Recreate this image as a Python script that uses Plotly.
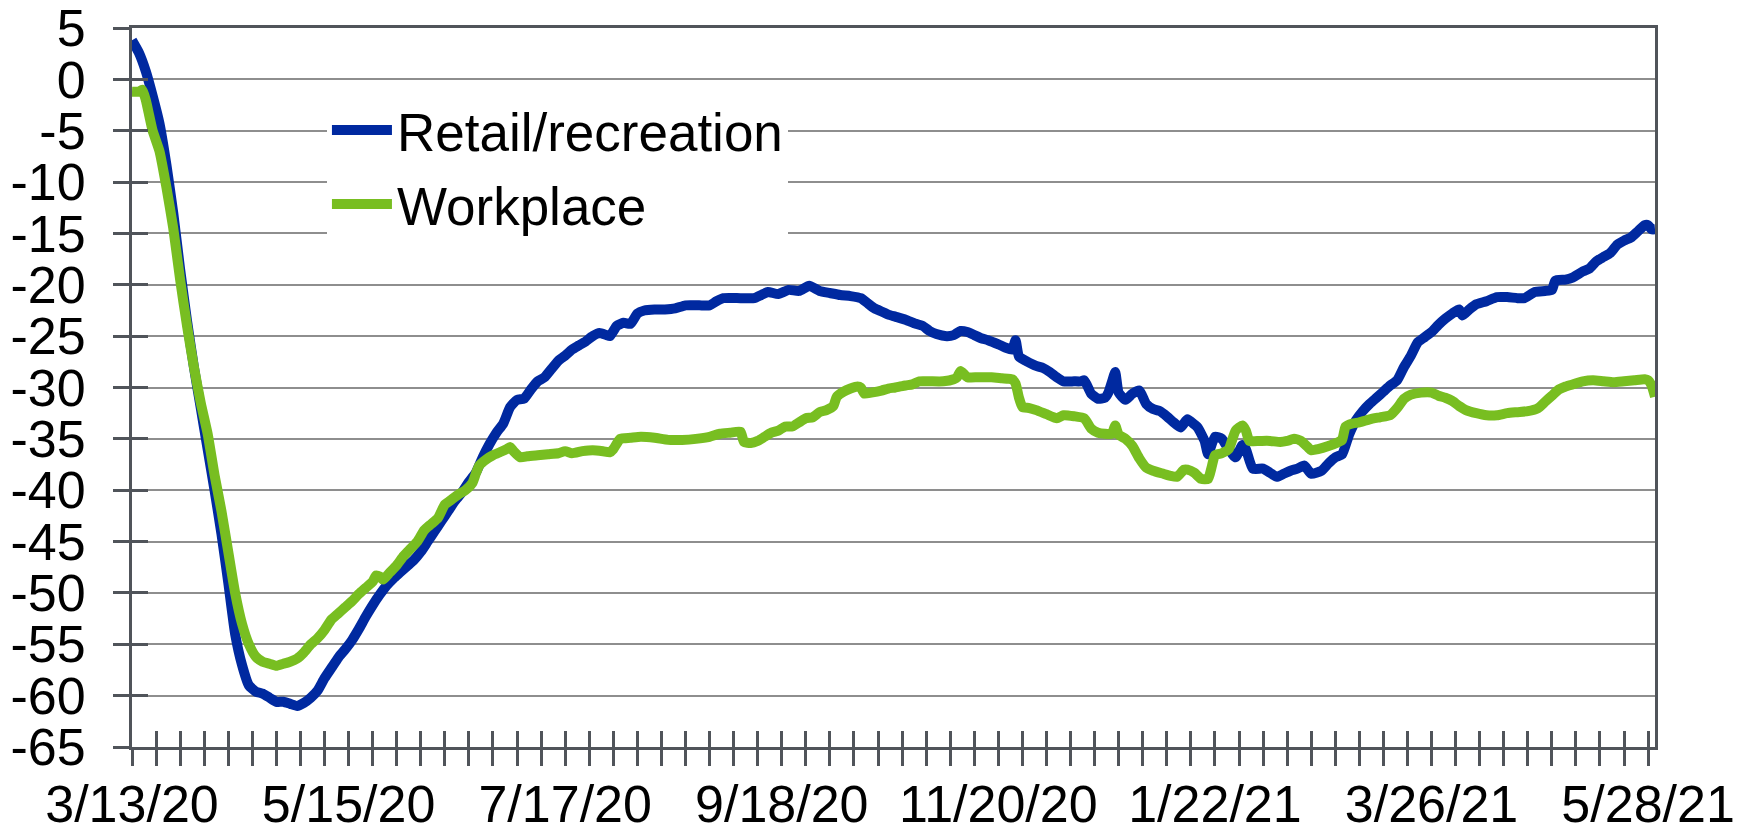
import pandas as pd
import plotly.graph_objects as go

# days since 3/13/20 and values
retail_days = [0, 2, 4, 6, 8, 10, 12, 14, 16, 18, 20, 22, 24, 26, 28, 30, 32, 34, 36, 38,
               40, 42, 44, 46, 48, 50, 52, 54, 56, 58, 60, 62, 64, 66, 68, 70, 72, 74, 76, 78,
               80, 82, 84, 86, 88, 90, 92, 94, 96, 98, 100, 102, 104, 106, 108, 110, 112, 114, 116, 118,
               120, 122, 124, 126, 128, 130, 132, 134, 136, 138, 139, 141, 143, 145, 147, 149, 152, 155, 158, 161,
               165, 168, 170, 172, 177, 181, 183, 185, 188, 191, 194, 197, 200, 203, 206, 209, 212, 214, 216, 218,
               220, 222, 225, 228, 230, 232, 234, 237, 239, 241, 243, 245, 247, 249, 252, 254, 256, 257, 258, 260,
               263, 265, 267, 269, 271, 274, 276, 277, 279, 281, 283, 284, 285, 286, 287, 289, 291, 293, 295, 297,
               299, 301, 303, 305, 307, 309, 310, 312, 313, 315, 317, 319, 321, 323, 324, 326, 329, 331, 333, 335,
               337, 339, 341, 343, 346, 348, 350, 352, 354, 356, 358, 360, 362, 364, 366, 368, 370, 372, 374, 376,
               378, 380, 382, 384, 386, 387, 389, 391, 394, 397, 400, 403, 405, 408, 411, 413, 414, 417, 419, 422,
               424, 426, 428, 430, 432, 434, 436, 438, 440, 441, 442, 443]
retail_vals = [3.8, 2.6, 0.8, -1.6, -4.3, -8.3, -13.0, -18.5, -23.5, -28.0, -32.0, -36.0, -40.0, -44.2, -49.0, -54.0, -57.0, -59.0, -59.6, -59.8,
               -60.2, -60.6, -60.6, -60.8, -61.0, -60.7, -60.2, -59.5, -58.3, -57.3, -56.3, -55.5, -54.6, -53.5, -52.3, -51.2, -50.2, -49.3, -48.6, -48.0,
               -47.4, -46.8, -46.0, -45.0, -44.0, -43.0, -42.0, -41.0, -40.2, -39.2, -38.3, -36.8, -35.5, -34.4, -33.5, -31.9, -31.2, -31.1, -30.2, -29.4,
               -29.0, -28.2, -27.4, -26.9, -26.3, -25.9, -25.5, -25.0, -24.7, -24.9, -25.0, -24.0, -23.7, -23.8, -22.8, -22.5, -22.4, -22.4, -22.3, -22.0,
               -22.0, -22.0, -21.6, -21.3, -21.3, -21.3, -21.0, -20.7, -20.9, -20.5, -20.6, -20.1, -20.6, -20.8, -21.0, -21.1, -21.3, -21.8, -22.3, -22.6,
               -22.9, -23.1, -23.4, -23.8, -24.0, -24.5, -24.8, -25.0, -24.9, -24.5, -24.6, -24.9, -25.2, -25.4, -25.8, -26.1, -26.3, -25.4, -27.0, -27.4,
               -27.9, -28.1, -28.5, -29.0, -29.4, -29.4, -29.4, -29.3, -30.6, -31.1, -31.0, -30.5, -29.5, -28.5, -30.5, -31.2, -30.6, -30.3, -31.6, -32.1,
               -32.3, -32.8, -33.4, -33.9, -33.1, -33.6, -33.9, -35.2, -36.5, -34.8, -35.0, -36.0, -36.8, -35.6, -36.0, -37.9, -37.9, -38.3, -38.7, -38.4,
               -38.1, -37.9, -37.6, -38.4, -38.1, -37.4, -36.8, -36.5, -34.6, -33.2, -32.3, -31.6, -31.0, -30.4, -29.8, -29.3, -28.0, -26.9, -25.6, -25.1,
               -24.6, -23.9, -23.3, -22.8, -22.4, -23.0, -22.4, -21.9, -21.6, -21.2, -21.2, -21.3, -21.3, -20.7, -20.6, -20.5, -19.6, -19.5, -19.3, -18.7,
               -18.4, -17.7, -17.3, -16.9, -16.1, -15.7, -15.4, -14.8, -14.2, -14.2, -14.6, -14.6]

work_days = [0, 2, 3, 4, 5, 6, 8, 10, 12, 14, 16, 18, 20, 22, 24, 26, 28, 30, 32, 34,
             36, 38, 40, 42, 44, 46, 48, 50, 52, 54, 56, 58, 60, 62, 64, 66, 68, 70, 71, 72,
             73, 75, 77, 79, 81, 83, 85, 87, 89, 91, 93, 95, 97, 99, 100, 101, 103, 105, 107, 109,
             110, 111, 113, 115, 118, 121, 124, 126, 128, 131, 134, 137, 139, 140, 142, 145, 148, 152, 156, 160,
             164, 168, 171, 174, 177, 178, 180, 182, 184, 186, 188, 190, 192, 194, 196, 198, 200, 202, 204, 205,
             207, 209, 211, 212, 213, 215, 218, 220, 222, 225, 227, 229, 232, 236, 239, 240, 241, 243, 246, 250,
             253, 256, 257, 258, 259, 261, 263, 266, 269, 271, 274, 277, 279, 281, 283, 285, 286, 287, 289, 291,
             293, 295, 297, 300, 302, 304, 306, 307, 309, 311, 313, 314, 315, 317, 319, 321, 323, 324, 325, 328,
             331, 334, 336, 338, 340, 342, 343, 345, 348, 351, 352, 353, 355, 357, 360, 363, 366, 368, 370, 372,
             375, 378, 380, 382, 384, 386, 388, 391, 394, 397, 400, 403, 406, 409, 411, 413, 415, 417, 419, 422,
             425, 428, 431, 434, 437, 440, 441, 442, 443]
work_vals = [-1.2, -1.2, -1.0, -2.0, -3.5, -5.0, -7.0, -10.5, -14.5, -19.5, -24.0, -28.0, -31.5, -34.5, -38.5, -42.0, -46.0, -50.0, -53.0, -55.0,
             -56.2, -56.7, -56.9, -57.1, -56.9, -56.7, -56.4, -55.8, -55.0, -54.4, -53.6, -52.6, -52.0, -51.4, -50.8, -50.1, -49.5, -48.9, -48.3, -48.4,
             -48.7, -48.0, -47.3, -46.4, -45.7, -45.0, -43.9, -43.3, -42.7, -41.4, -40.9, -40.4, -40.0, -39.3, -38.4, -37.6, -37.0, -36.6, -36.3, -36.0,
             -35.8, -36.2, -36.8, -36.7, -36.6, -36.5, -36.4, -36.2, -36.4, -36.2, -36.1, -36.2, -36.3, -36.0, -35.0, -34.9, -34.8, -34.9, -35.1, -35.1,
             -35.0, -34.8, -34.5, -34.4, -34.3, -35.3, -35.4, -35.2, -34.8, -34.4, -34.2, -33.8, -33.8, -33.4, -33.0, -32.9, -32.4, -32.2, -31.8, -30.9,
             -30.4, -30.1, -29.9, -30.0, -30.6, -30.5, -30.3, -30.1, -30.0, -29.8, -29.7, -29.4, -29.4, -29.4, -29.2, -29.0, -28.4, -29.0, -29.0, -29.0,
             -29.1, -29.2, -29.6, -31.0, -31.9, -32.0, -32.2, -32.6, -33.0, -32.7, -32.8, -33.0, -34.0, -34.4, -34.5, -34.5, -33.7, -34.6, -35.0, -35.7,
             -36.9, -37.8, -38.1, -38.4, -38.6, -38.7, -38.0, -38.0, -38.3, -38.9, -38.9, -37.8, -36.6, -36.4, -36.0, -34.2, -33.7, -34.2, -35.2, -35.2,
             -35.2, -35.3, -35.2, -35.0, -35.2, -35.8, -36.1, -36.0, -35.7, -35.3, -35.1, -33.8, -33.5, -33.4, -33.1, -32.9, -32.7, -32.0, -31.1, -30.7,
             -30.5, -30.5, -30.8, -31.0, -31.3, -31.8, -32.2, -32.5, -32.7, -32.7, -32.5, -32.4, -32.3, -32.0, -31.4, -30.8, -30.2, -29.9, -29.7, -29.4,
             -29.3, -29.4, -29.5, -29.4, -29.3, -29.2, -29.3, -29.8, -30.9]

y_ticks = [5, 0, -5, -10, -15, -20, -25, -30, -35, -40, -45, -50, -55, -60, -65]
y_labels = ["5", "0", "-5", "-10", "-15", "-20", "-25", "-30", "-35", "-40", "-45", "-50", "-55", "-60", "-65"]

start = pd.Timestamp("2020-03-13")
end = pd.Timestamp("2021-05-30")
retail_dates = start + pd.to_timedelta(retail_days, unit="D")
work_dates = start + pd.to_timedelta(work_days, unit="D")

DAY = 86400000
FONT = "Liberation Sans, Arial, sans-serif"
AXIS = "#50545a"
GRID = "#8e8e8e"

fig = go.Figure()
fig.add_trace(go.Scatter(x=retail_dates, y=retail_vals, mode="lines", name="Retail/recreation",
                         legendgroup="a",
                         line=dict(color="#0029a0", width=10, shape="spline", smoothing=0.5)))
fig.add_trace(go.Scatter(x=work_dates, y=work_vals, mode="lines", name="Workplace",
                         legendgroup="b",
                         line=dict(color="#78be21", width=10, shape="spline", smoothing=0.5)))
# helper trace so the overlay axes (inner half of the crossing ticks) get drawn
fig.add_trace(go.Scatter(x=[start], y=[None], xaxis="x2", yaxis="y2",
                         showlegend=False, hoverinfo="skip"))

fig.update_layout(
    width=1745, height=832,
    margin=dict(l=132, r=90, t=28, b=85),
    paper_bgcolor="white", plot_bgcolor="white",
    font=dict(family=FONT, size=52, color="black"),
    showlegend=True,
    legend=dict(x=0.128, y=0.915, xanchor="left", yanchor="top", bgcolor="white",
                font=dict(size=53), tracegroupgap=2, itemwidth=60),
    xaxis=dict(type="date", range=[start, end], tick0=start, dtick=63 * DAY,
               tickformat="%-m/%-d/%y", ticks="outside", ticklen=16, tickwidth=2.5,
               tickcolor=AXIS, showline=True, linecolor=AXIS, linewidth=3, mirror=True,
               showgrid=False, zeroline=False, ticklabelstandoff=-6, automargin=False,
               ticklabeloverflow="allow",
               minor=dict(tick0=start, dtick=7 * DAY, ticks="outside", ticklen=16,
                          tickwidth=2.5, tickcolor=AXIS, showgrid=False)),
    xaxis2=dict(type="date", overlaying="x", anchor="y", side="bottom", range=[start, end],
                tick0=start, dtick=7 * DAY, ticks="inside", ticklen=16, tickwidth=2.5,
                tickcolor=AXIS, showticklabels=False, showline=False, showgrid=False,
                zeroline=False, automargin=False),
    yaxis=dict(range=[-65, 5], tickmode="array", tickvals=y_ticks, ticktext=y_labels,
               ticks="outside", ticklen=16, tickwidth=2.5,
               tickcolor=AXIS, showline=True, linecolor=AXIS, linewidth=3, mirror=True,
               showgrid=True, gridcolor=GRID, gridwidth=1.8, zeroline=False,
               ticklabelstandoff=17, automargin=False, ticklabeloverflow="allow"),
    yaxis2=dict(overlaying="y", anchor="x", side="left", range=[-65, 5],
                tickmode="array", tickvals=y_ticks,
                ticks="inside", ticklen=16, tickwidth=2.5, tickcolor=AXIS,
                showticklabels=False, showline=False, showgrid=False, zeroline=False,
                automargin=False),
)

# drop the browser's default body margin so the figure sits at the page corner
fig.write_html("out.html", config={"displayModeBar": False},
               post_script="document.body.style.margin='0';")
